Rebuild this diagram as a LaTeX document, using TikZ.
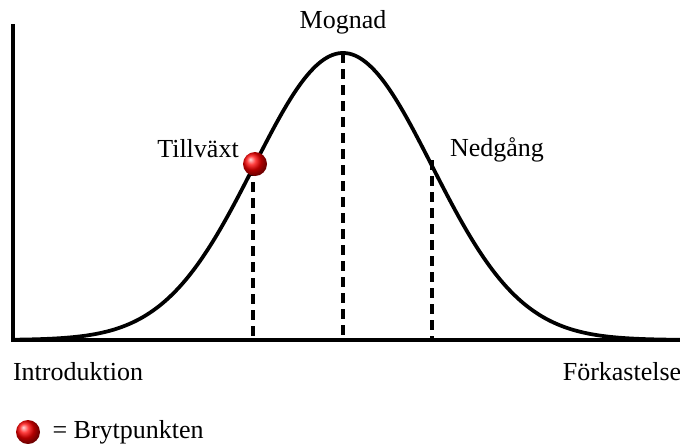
\documentclass[tikz,border=0pt]{standalone}
\usepackage{fontspec}
\setmainfont{Liberation Serif}
\usetikzlibrary{positioning, shadings}

\begin{document}
\begin{tikzpicture}[
    x=0.75pt, y=-0.75pt,
    axis/.style={line width=3.4pt, line cap=rect},
    curve/.style={line width=2.8pt, smooth},
    guide/.style={line width=2.8pt, dash pattern=on 7.5pt off 4.5pt},
    point/.style={circle, inner sep=0pt, minimum size=18pt, ball color=red},
    label/.style={font=\fontsize{19.5}{22}\selectfont, inner sep=0pt}
]
\useasboundingbox (0,0) rectangle (680,443);

% Axes
\coordinate (origin) at (13,340);
\coordinate (ytop) at (13,26);
\coordinate (xend) at (680,340);
\draw[axis] (ytop) -- (origin) -- (xend);

% Bell curve
\draw[curve] plot[domain=13:680, samples=120] (\x, {340-287*exp(-((\x-343)/89)^2/2)});

% Guide lines
\coordinate (grow) at (253,166);
\coordinate (grow0) at (253,340);
\coordinate (top) at (343,53);
\coordinate (top0) at (343,340);
\coordinate (fall) at (432,160);
\coordinate (fall0) at (432,340);
\draw[guide] (grow) -- (grow0);
\draw[guide] (top) -- (top0);
\draw[guide] (fall) -- (fall0);

% Break point
\node[point] (brk) at (255,164) {};

% Stage labels
\node[label] (mognad) at (343,22) {Mognad};
\node[label] (tillvaxt) at (198,149) {Tillväxt};
\node[label] (nedgang) at (497,150) {Nedgång};
\node[label] (intro) at (78,372) {Introduktion};
\node[label] (forkast) at (622,372) {Förkastelse};

% Legend
\node[point] (key) at (28,432) {};
\node[label, right=9pt of key] (keytext) {= Brytpunkten};

\end{tikzpicture}
\end{document}
